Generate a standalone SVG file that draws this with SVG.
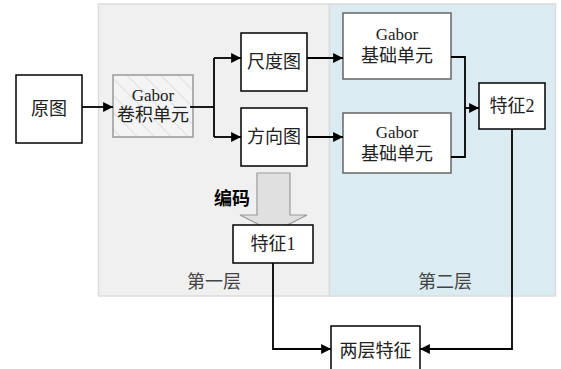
<svg xmlns="http://www.w3.org/2000/svg" width="561" height="369" viewBox="0 0 561 369">
<defs>
<style>
.t{font-family:"Liberation Serif","Noto Sans CJK SC",serif;font-size:18px;fill:#222;text-anchor:middle}
.g{font-size:17px}
.box{fill:#fff;stroke:#000;stroke-width:1.5}
.gbox{fill:#fff;stroke:#666;stroke-width:1.5}
.ln{fill:none;stroke:#000;stroke-width:1.8}
.lbl{font-family:"Liberation Serif","Noto Sans CJK SC",serif;font-size:18px;fill:#444;text-anchor:middle}
.bold{font-family:"Liberation Serif","Noto Sans CJK SC",serif;font-size:18px;font-weight:bold;fill:#000;text-anchor:middle}
</style>
<marker id="ah" viewBox="0 0 10 10" refX="10" refY="5" markerWidth="5.5" markerHeight="5.5" orient="auto" markerUnits="strokeWidth">
<path d="M0,0 L10,5 L0,10 z" fill="#000"/>
</marker>
<pattern id="hatch" width="12" height="12" patternUnits="userSpaceOnUse" patternTransform="rotate(-45)">
<rect width="12" height="12" fill="#f4f4f4"/>
<line x1="0" y1="0" x2="0" y2="12" stroke="#d6d6d6" stroke-width="1.5"/>
</pattern>
</defs>
<rect width="561" height="369" fill="#fff"/>
<g id="layer1">
<rect x="98.5" y="4" width="231" height="292" fill="#f0f0f0" stroke="#dcdcdc" stroke-width="1.5"/>
<text class="lbl" x="214" y="288">第一层</text>
</g>
<g id="layer2">
<rect x="329.5" y="4" width="226" height="292" fill="#daebf1" stroke="#dcdcdc" stroke-width="1.5"/>
<text class="lbl" x="445" y="288">第二层</text>
</g>
<g id="yuantu">
<rect class="box" x="16" y="75" width="66" height="68"/>
<text class="t" x="49" y="115">原图</text>
</g>
<g id="gabor-conv">
<rect x="113" y="75" width="80" height="62" fill="url(#hatch)" stroke="#999" stroke-width="1.5"/>
<text class="t g" x="153" y="101">Gabor</text>
<text class="t" x="153" y="121">卷积单元</text>
</g>
<g id="chidutu">
<rect class="box" x="241" y="33" width="66" height="58"/>
<text class="t" x="274" y="68">尺度图</text>
</g>
<g id="fangxiangtu">
<rect class="box" x="241" y="108" width="66" height="58"/>
<text class="t" x="274" y="143">方向图</text>
</g>
<g id="gabor-base1">
<rect class="gbox" x="343" y="13" width="108" height="66"/>
<text class="t g" x="397" y="40">Gabor</text>
<text class="t" x="397" y="62">基础单元</text>
</g>
<g id="gabor-base2">
<rect class="gbox" x="343" y="113" width="108" height="60"/>
<text class="t g" x="397" y="138">Gabor</text>
<text class="t" x="397" y="160">基础单元</text>
</g>
<g id="tezheng2">
<rect class="box" x="479" y="83" width="66" height="46"/>
<text class="t" x="512" y="112">特征2</text>
</g>
<g id="encode">
<path d="M257,173 L290,173 L290,215 L307,215 L273.5,232 L240,215 L257,215 Z" fill="#e0e0e0" stroke="#999" stroke-width="1.2"/>
<text class="bold" x="232" y="205">编码</text>
</g>
<g id="tezheng1">
<rect class="box" x="233" y="225" width="80" height="38"/>
<text class="t" x="273" y="250">特征1</text>
</g>
<g id="lianceng">
<rect class="box" x="331" y="326" width="89" height="50"/>
<text class="t" x="375.5" y="357">两层特征</text>
</g>
<g id="connectors">
<path class="ln" d="M82,107 L113,107" marker-end="url(#ah)"/>
<path class="ln" d="M190,107 L214,107"/>
<path class="ln" d="M214,58 L214,137"/>
<path class="ln" d="M214,58 L241,58" marker-end="url(#ah)"/>
<path class="ln" d="M214,137 L241,137" marker-end="url(#ah)"/>
<path class="ln" d="M307,58 L343,58" marker-end="url(#ah)"/>
<path class="ln" d="M307,137 L343,137" marker-end="url(#ah)"/>
<path class="ln" d="M451,57 L465,57 L465,157 L451,157"/>
<path class="ln" d="M465,108 L479,108" marker-end="url(#ah)"/>
<path class="ln" d="M512,129 L512,349 L420,349" marker-end="url(#ah)"/>
<path class="ln" d="M273,263 L273,349 L331,349" marker-end="url(#ah)"/>
</g>
</svg>
